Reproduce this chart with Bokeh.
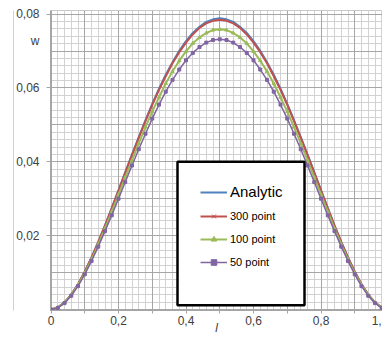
from bokeh.plotting import figure
from bokeh.models import (Range1d, FixedTicker, SingleIntervalTicker, Grid, BoxAnnotation,
                          Legend, LegendItem, LinearAxis, ColumnDataSource)
from bokeh.embed import file_html
from bokeh.resources import INLINE

# ---- data ----
l = [0.00, 0.02, 0.04, 0.06, 0.08, 0.10, 0.12, 0.14, 0.16, 0.18, 0.20, 0.22, 0.24, 0.26, 0.28,
     0.30, 0.32, 0.34, 0.36, 0.38, 0.40, 0.42, 0.44, 0.46, 0.48, 0.50, 0.52, 0.54, 0.56, 0.58,
     0.60, 0.62, 0.64, 0.66, 0.68, 0.70, 0.72, 0.74, 0.76, 0.78, 0.80, 0.82, 0.84, 0.86, 0.88,
     0.90, 0.92, 0.94, 0.96, 0.98, 1.00]

w_analytic = [0.0, 0.0005, 0.0019, 0.0040, 0.0068, 0.0102, 0.0141, 0.0183, 0.0228, 0.0275,
              0.0323, 0.0372, 0.0420, 0.0467, 0.0513, 0.0557, 0.0598, 0.0636, 0.0670, 0.0701,
              0.0727, 0.0749, 0.0766, 0.0779, 0.0786, 0.0789, 0.0786, 0.0779, 0.0766, 0.0749,
              0.0727, 0.0701, 0.0670, 0.0636, 0.0598, 0.0557, 0.0513, 0.0467, 0.0420, 0.0372,
              0.0323, 0.0275, 0.0228, 0.0183, 0.0141, 0.0102, 0.0068, 0.0040, 0.0019, 0.0005, 0.0]

w_300 = [0.0, 0.0005, 0.0019, 0.0040, 0.0068, 0.0102, 0.0140, 0.0182, 0.0227, 0.0274,
         0.0322, 0.0370, 0.0418, 0.0465, 0.0510, 0.0554, 0.0595, 0.0632, 0.0667, 0.0697,
         0.0723, 0.0745, 0.0763, 0.0775, 0.0782, 0.0785, 0.0782, 0.0775, 0.0763, 0.0745,
         0.0723, 0.0697, 0.0667, 0.0632, 0.0595, 0.0554, 0.0510, 0.0465, 0.0418, 0.0370,
         0.0322, 0.0274, 0.0227, 0.0182, 0.0140, 0.0102, 0.0068, 0.0040, 0.0019, 0.0005, 0.0]

w_100 = [0.0, 0.0005, 0.0018, 0.0039, 0.0066, 0.0098, 0.0135, 0.0176, 0.0219, 0.0265,
         0.0311, 0.0358, 0.0404, 0.0450, 0.0494, 0.0536, 0.0575, 0.0612, 0.0645, 0.0674,
         0.0699, 0.0721, 0.0737, 0.0749, 0.0757, 0.0759, 0.0757, 0.0749, 0.0737, 0.0721,
         0.0699, 0.0674, 0.0645, 0.0612, 0.0575, 0.0536, 0.0494, 0.0450, 0.0404, 0.0358,
         0.0311, 0.0265, 0.0219, 0.0176, 0.0135, 0.0098, 0.0066, 0.0039, 0.0018, 0.0005, 0.0]

w_50 = [0.0, 0.0004, 0.0017, 0.0037, 0.0063, 0.0095, 0.0131, 0.0170, 0.0212, 0.0255,
        0.0300, 0.0345, 0.0390, 0.0434, 0.0476, 0.0517, 0.0555, 0.0590, 0.0622, 0.0650,
        0.0675, 0.0695, 0.0711, 0.0723, 0.0730, 0.0732, 0.0730, 0.0723, 0.0711, 0.0695,
        0.0675, 0.0650, 0.0622, 0.0590, 0.0555, 0.0517, 0.0476, 0.0434, 0.0390, 0.0345,
        0.0300, 0.0255, 0.0212, 0.0170, 0.0131, 0.0095, 0.0063, 0.0037, 0.0017, 0.0004, 0.0]

series_names = ["Analytic", "300 point", "100 point", "50 point"]
x_ticks = [0.0, 0.2, 0.4, 0.6, 0.8, 0.965]
x_tick_labels = ["0", "0,2", "0,4", "0,6", "0,8", "1,"]
x_title = "l"
y_ticks = [0.02, 0.04, 0.06, 0.0727, 0.08]
y_tick_labels = ["0,02", "0,04", "0,06", "w", "0,08"]

FONT = "Liberation Sans"
C_BLUE, C_RED, C_GREEN, C_PURPLE = "#4F81BD", "#C0504D", "#9BBB59", "#8064A2"

p = figure(width=382, height=337, output_backend="svg", toolbar_location=None,
           x_range=Range1d(-0.0015, 0.9822), y_range=Range1d(-0.0003, 0.0810),
           min_border_left=50, min_border_right=0, min_border_top=10, min_border_bottom=26)
p.background_fill_color = "white"
p.border_fill_color = "white"
p.outline_line_color = "#c8c8c8"

# grids
p.xgrid.grid_line_color = None
p.ygrid.grid_line_color = None
p.add_layout(Grid(dimension=0, ticker=SingleIntervalTicker(interval=0.02), grid_line_color="#d2d2d2", grid_line_width=1))
p.add_layout(Grid(dimension=1, ticker=SingleIntervalTicker(interval=0.002), grid_line_color="#d2d2d2", grid_line_width=1))
p.add_layout(Grid(dimension=0, ticker=SingleIntervalTicker(interval=0.1), grid_line_color="#a6a6a6", grid_line_width=1))
p.add_layout(Grid(dimension=1, ticker=SingleIntervalTicker(interval=0.01), grid_line_color="#a6a6a6", grid_line_width=1))

# axes (tick stubs drawn through minor ticks so the label-only ticks get no stub)
p.xaxis.ticker = FixedTicker(ticks=x_ticks, minor_ticks=[0.0, 0.1, 0.2, 0.3, 0.4, 0.5, 0.6, 0.7, 0.8, 0.9])
p.xaxis.major_label_overrides = dict(zip(x_ticks, x_tick_labels))
p.yaxis.ticker = FixedTicker(ticks=y_ticks, minor_ticks=[0.02, 0.04, 0.06, 0.08])
p.yaxis.major_label_overrides = dict(zip(y_ticks, y_tick_labels))
for ax in (p.xaxis, p.yaxis):
    ax.axis_line_color = "#a6a6a6"
    ax.major_tick_line_color = None
    ax.minor_tick_line_color = "#a6a6a6"
    ax.major_tick_in = 0
    ax.major_tick_out = 0
    ax.minor_tick_in = 0
    ax.major_label_text_font = FONT
    ax.major_label_text_font_size = "12px"
    ax.major_label_text_color = "#404040"
p.xaxis.minor_tick_out = 3
p.xaxis.major_label_standoff = 2
p.yaxis.minor_tick_out = 4
p.yaxis.major_label_standoff = 7
p.xaxis.axis_label = x_title
p.xaxis.axis_label_text_font = FONT
p.xaxis.axis_label_text_font_style = "italic"
p.xaxis.axis_label_text_font_size = "12px"
p.xaxis.axis_label_text_color = "#404040"
p.xaxis.axis_label_standoff = -7

# outer chart-area border line on the left
outer = LinearAxis(ticker=FixedTicker(ticks=[]), axis_line_color="#d0d0d0",
                   major_tick_out=0, minor_tick_out=0, major_label_standoff=0)
p.add_layout(outer, "left")

# series
src = ColumnDataSource(dict(l=l, a=w_analytic, s300=w_300, s100=w_100, s50=w_50))
r_a = p.line("l", "a", source=src, line_color=C_BLUE, line_width=2)
r_300 = p.line("l", "s300", source=src, line_color=C_RED, line_width=2)
m_300 = p.scatter("l", "s300", source=src, marker="x", size=4, line_color=C_RED, line_width=1, visible=False)
r_100 = p.line("l", "s100", source=src, line_color=C_GREEN, line_width=2)
m_100 = p.scatter("l", "s100", source=src, marker="triangle", size=3.5, fill_color=C_GREEN, line_color=C_GREEN)
r_50 = p.line("l", "s50", source=src, line_color=C_PURPLE, line_width=1.5)
m_50 = p.scatter("l", "s50", source=src, marker="square", size=3, fill_color=C_PURPLE, line_color=C_PURPLE)

# legend frame
p.add_layout(BoxAnnotation(left=0.3748, right=0.7511, top=0.0400, bottom=0.0011,
                           fill_color="white", fill_alpha=1.0,
                           line_color="black", line_alpha=1.0, line_width=2.5))

leg_a = Legend(items=[LegendItem(label=series_names[0], renderers=[r_a])],
               location=(150, 110), padding=0, margin=0, spacing=0,
               glyph_width=27, glyph_height=16, label_height=16, label_standoff=3,
               label_text_font=FONT, label_text_font_size="15px", label_text_color="black",
               border_line_color=None, background_fill_alpha=0)
leg_b = Legend(items=[LegendItem(label=series_names[1], renderers=[r_300, m_300]),
                      LegendItem(label=series_names[2], renderers=[r_100, m_100]),
                      LegendItem(label=series_names[3], renderers=[r_50, m_50])],
               location=(150, 41), padding=0, margin=0, spacing=9,
               glyph_width=27, glyph_height=14, label_height=14, label_standoff=3,
               label_text_font=FONT, label_text_font_size="11px", label_text_color="black",
               border_line_color=None, background_fill_alpha=0)
p.add_layout(leg_a)
p.add_layout(leg_b)

open("out.html", "w").write(file_html(p, INLINE))
